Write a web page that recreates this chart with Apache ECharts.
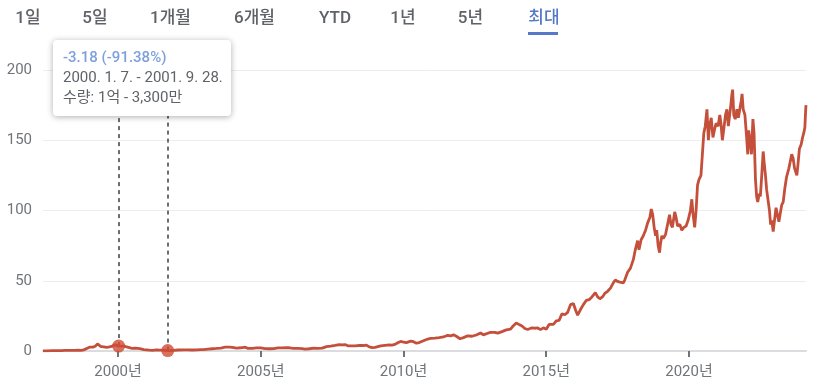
<!DOCTYPE html>
<html>
<head>
<meta charset="utf-8">
<script src="https://cdn.jsdelivr.net/npm/echarts@6/dist/echarts.min.js"></script>
<style>
html,body{margin:0;padding:0;background:#fff;}
#chart{width:829px;height:384px;}
</style>
</head>
<body>
<div id="chart"></div>
<script>
// ---- data (decimal year, split-adjusted price) ----
const years = [
1997.37,1997.5,1997.7,1997.85,1998.0,1998.15,1998.3,1998.45,1998.6,1998.7,1998.8,1998.9,
1999.0,1999.05,1999.12,1999.2,1999.28,1999.33,1999.4,1999.5,1999.6,1999.7,1999.8,1999.9,1999.95,
2000.02,2000.1,2000.2,2000.3,2000.4,2000.5,2000.6,2000.7,2000.8,2000.9,
2001.0,2001.1,2001.2,2001.35,2001.45,2001.55,2001.65,2001.74,2001.85,2001.95,
2002.1,2002.3,2002.45,2002.6,2002.75,2002.9,
2003.0,2003.15,2003.3,2003.45,2003.6,2003.75,2003.9,
2004.0,2004.15,2004.3,2004.45,2004.55,2004.7,2004.85,
2005.0,2005.15,2005.3,2005.45,2005.6,2005.75,2005.9,
2006.0,2006.15,2006.3,2006.45,2006.55,2006.7,2006.85,
2007.0,2007.15,2007.3,2007.45,2007.6,2007.75,2007.85,2007.95,
2008.05,2008.15,2008.3,2008.45,2008.6,2008.7,2008.8,2008.9,
2009.0,2009.1,2009.2,2009.35,2009.5,2009.6,2009.7,2009.8,2009.9,
2010.0,2010.1,2010.25,2010.35,2010.45,2010.55,2010.7,2010.85,2010.95,
2011.1,2011.25,2011.4,2011.55,2011.65,2011.75,2011.85,2011.98,
2012.1,2012.25,2012.4,2012.55,2012.7,2012.8,2012.95,
2013.05,2013.2,2013.3,2013.45,2013.6,2013.75,2013.85,2013.95,
2014.05,2014.15,2014.25,2014.35,2014.5,2014.6,2014.7,2014.8,2014.9,
2015.0,2015.1,2015.25,2015.35,2015.45,2015.55,2015.65,2015.75,2015.85,2015.95,
2016.03,2016.1,2016.2,2016.3,2016.4,2016.5,2016.6,2016.72,2016.8,2016.88,2016.97,
2017.05,2017.15,2017.25,2017.35,2017.42,2017.5,2017.58,2017.7,2017.75,2017.85,2017.95,
2018.05,2018.12,2018.2,2018.25,2018.32,2018.4,2018.48,2018.55,2018.63,2018.68,2018.73,2018.78,2018.83,2018.87,2018.92,2018.97,
2019.0,2019.05,2019.1,2019.18,2019.25,2019.32,2019.37,2019.42,2019.5,2019.55,2019.6,2019.68,2019.75,2019.82,2019.9,2019.97,
2020.05,2020.1,2020.14,2020.2,2020.25,2020.3,2020.35,2020.42,2020.47,2020.52,2020.57,2020.63,2020.68,2020.72,2020.78,2020.84,2020.9,2020.95,
2021.02,2021.08,2021.12,2021.17,2021.22,2021.28,2021.33,2021.38,2021.45,2021.5,2021.53,2021.57,2021.62,2021.68,2021.73,2021.78,2021.83,2021.86,2021.9,2021.96,
2022.02,2022.06,2022.09,2022.14,2022.19,2022.24,2022.28,2022.33,2022.37,2022.41,2022.46,2022.5,2022.54,2022.6,2022.63,2022.68,2022.72,2022.77,2022.82,2022.86,2022.9,2022.95,
2023.0,2023.05,2023.1,2023.15,2023.2,2023.25,2023.3,2023.36,2023.42,2023.5,2023.55,2023.6,2023.65,2023.7,2023.78,2023.82,2023.87,2023.93,2023.98,
2024.02,2024.06,2024.09,2024.1
];
const prices = [
0.08,0.09,0.2,0.25,0.26,0.4,0.45,0.5,0.6,0.45,0.8,1.8,
2.7,3.0,2.8,3.4,5.0,3.9,3.2,3.0,2.6,2.9,3.5,4.5,5.2,
3.48,3.4,3.4,2.9,2.4,1.8,2.0,1.9,1.5,1.0,
0.8,0.6,0.5,0.8,0.65,0.6,0.45,0.30,0.35,0.5,
0.7,0.75,0.8,0.7,0.85,1.0,
1.0,1.3,1.6,1.8,2.1,2.7,2.7,
2.6,2.1,2.3,2.7,1.9,1.9,2.2,
2.2,1.7,1.6,1.7,2.2,2.2,2.4,
2.3,1.9,1.8,1.7,1.3,1.6,2.0,
1.9,2.0,3.1,3.5,4.0,4.6,4.3,4.6,
3.7,3.6,3.7,3.9,3.9,4.2,2.9,2.4,
2.6,3.1,3.6,4.0,4.3,4.2,4.7,5.9,6.8,
6.4,6.0,7.0,6.6,5.6,6.0,7.3,8.5,9.0,
9.2,9.5,10.0,11.2,10.8,11.5,10.5,8.7,
9.5,10.8,10.5,11.4,12.8,11.5,12.6,
13.3,13.3,12.7,13.8,15.0,15.5,18.0,20.0,
18.8,17.8,16.0,15.3,16.5,16.2,16.4,15.2,16.5,
15.5,18.9,19.0,21.5,21.8,26.5,25.8,27.5,33.0,33.8,
29.0,25.5,29.5,33.0,36.0,36.5,38.5,41.5,38.5,37.2,38.5,
41.0,42.5,44.8,48.5,50.5,49.5,49.0,48.5,50.5,56.0,59.0,
65.0,72.0,78.5,72.0,79.0,82.0,86.0,91.0,95.0,101.0,97.0,88.0,82.0,86.0,75.0,70.0,
76.0,82.0,80.0,83.0,90.0,97.0,90.0,88.0,99.0,95.0,89.0,90.0,86.0,88.0,89.0,93.0,
100.0,108.0,98.0,88.0,100.0,118.0,122.0,125.0,140.0,155.0,160.0,172.0,150.0,160.0,166.0,152.0,158.0,162.0,
160.0,168.0,162.0,150.0,158.0,168.0,172.0,160.0,172.0,182.0,186.0,168.0,165.0,172.0,166.0,165.0,178.0,183.0,172.0,168.0,
152.0,140.0,157.0,150.0,140.0,165.0,155.0,122.0,110.0,106.0,112.0,110.0,122.0,142.0,135.0,125.0,115.0,116.0,100.0,90.0,93.0,85.0,
86.0,102.0,97.0,92.0,98.0,104.0,106.0,116.0,124.0,130.0,135.0,140.0,137.0,130.0,125.0,133.0,144.0,147.0,152.0,
155.0,159.0,172.0,175.0
];
// selected range (tooltip)
const rangeYears = [2000.02, 2001.74];
const rangePrices = [3.48, 0.30];
const tooltipLines = ['-3.18 (-91.38%)', '2000. 1. 7. - 2001. 9. 28.', '수량: 1억 - 3,300만'];
// axis ticks
const xTickYears = [2000, 2005, 2010, 2015, 2020];
const yTicks = [0, 50, 100, 150, 200];
const tabLabels = ['1일','5일','1개월','6개월','YTD','1년','5년','최대'];
const tabCenters = [28, 95, 170.5, 254.5, 335, 403, 470.5, 544];

const FONT = 'Roboto, "Noto Sans CJK KR", "Noto Sans", sans-serif';
const lineData = years.map((y, i) => [y, prices[i]]);
const dotData = rangeYears.map((y, i) => [y, rangePrices[i]]);

const graphics = [];
tabLabels.forEach((t, i) => {
  const active = i === tabLabels.length - 1;
  graphics.push({
    type: 'text', x: tabCenters[i], y: 19, z: 100,
    style: { text: t, fill: active ? '#5579c6' : '#5f6368', font: '500 17px ' + FONT, align: 'center', verticalAlign: 'middle' }
  });
});
graphics.push({ type: 'rect', shape: { x: 528, y: 32, width: 30, height: 3 }, style: { fill: '#5579c6' }, z: 100 });
graphics.push({
  type: 'rect', z: 100,
  shape: { x: 53, y: 40, width: 178, height: 76, r: 4 },
  style: { fill: '#ffffff', shadowBlur: 6, shadowOffsetY: 1, shadowColor: 'rgba(0,0,0,0.32)' }
});
graphics.push({ type: 'text', x: 63, y: 58, z: 101, style: { text: tooltipLines[0], fill: '#7ea0dc', font: '500 15px ' + FONT, verticalAlign: 'middle' } });
graphics.push({ type: 'text', x: 63, y: 78, z: 101, style: { text: tooltipLines[1], fill: '#5f6368', font: '15px ' + FONT, verticalAlign: 'middle' } });
graphics.push({ type: 'text', x: 63, y: 98, z: 101, style: { text: tooltipLines[2], fill: '#5f6368', font: '15px ' + FONT, verticalAlign: 'middle' } });

const chart = echarts.init(document.getElementById('chart'), null, { renderer: 'canvas' });
chart.setOption({
  animation: false,
  backgroundColor: '#fff',
  textStyle: { fontFamily: FONT },
  grid: { left: 43, right: 23, top: 70, bottom: 33, containLabel: false },
  xAxis: {
    type: 'value', min: 1997.37, max: 2024.1,
    axisLine: { show: true, lineStyle: { color: '#dadce0', width: 2 } },
    axisTick: { show: true, customValues: xTickYears, length: 6, lineStyle: { color: '#70757a', width: 2 } },
    axisLabel: { customValues: xTickYears, formatter: v => v + '년', color: '#70757a', fontSize: 15, margin: 14, fontFamily: FONT },
    splitLine: { show: false }
  },
  yAxis: {
    type: 'value', min: 0, max: 200, interval: 50,
    axisLine: { show: false }, axisTick: { show: false },
    axisLabel: { color: '#70757a', fontSize: 15, margin: 11, fontFamily: FONT },
    splitLine: { lineStyle: { color: '#ebedef', width: 1 } }
  },
  series: [
    {
      type: 'line', data: lineData, showSymbol: false, symbol: 'none',
      lineStyle: { color: '#c4503b', width: 2.8 }, z: 3
    },
    {
      type: 'scatter', data: dotData, symbol: 'circle', symbolSize: 13,
      itemStyle: { color: '#cf4b35' }, z: 5,
      markLine: {
        silent: true, symbol: 'none', z: 2,
        label: { show: false },
        lineStyle: { color: '#6a6e73', width: 2, type: [4, 4] },
        data: rangeYears.map((y, i) => [{ coord: [y, rangePrices[i]] }, { coord: [y, 200] }])
      }
    }
  ],
  graphic: graphics
});
</script>
</body>
</html>
